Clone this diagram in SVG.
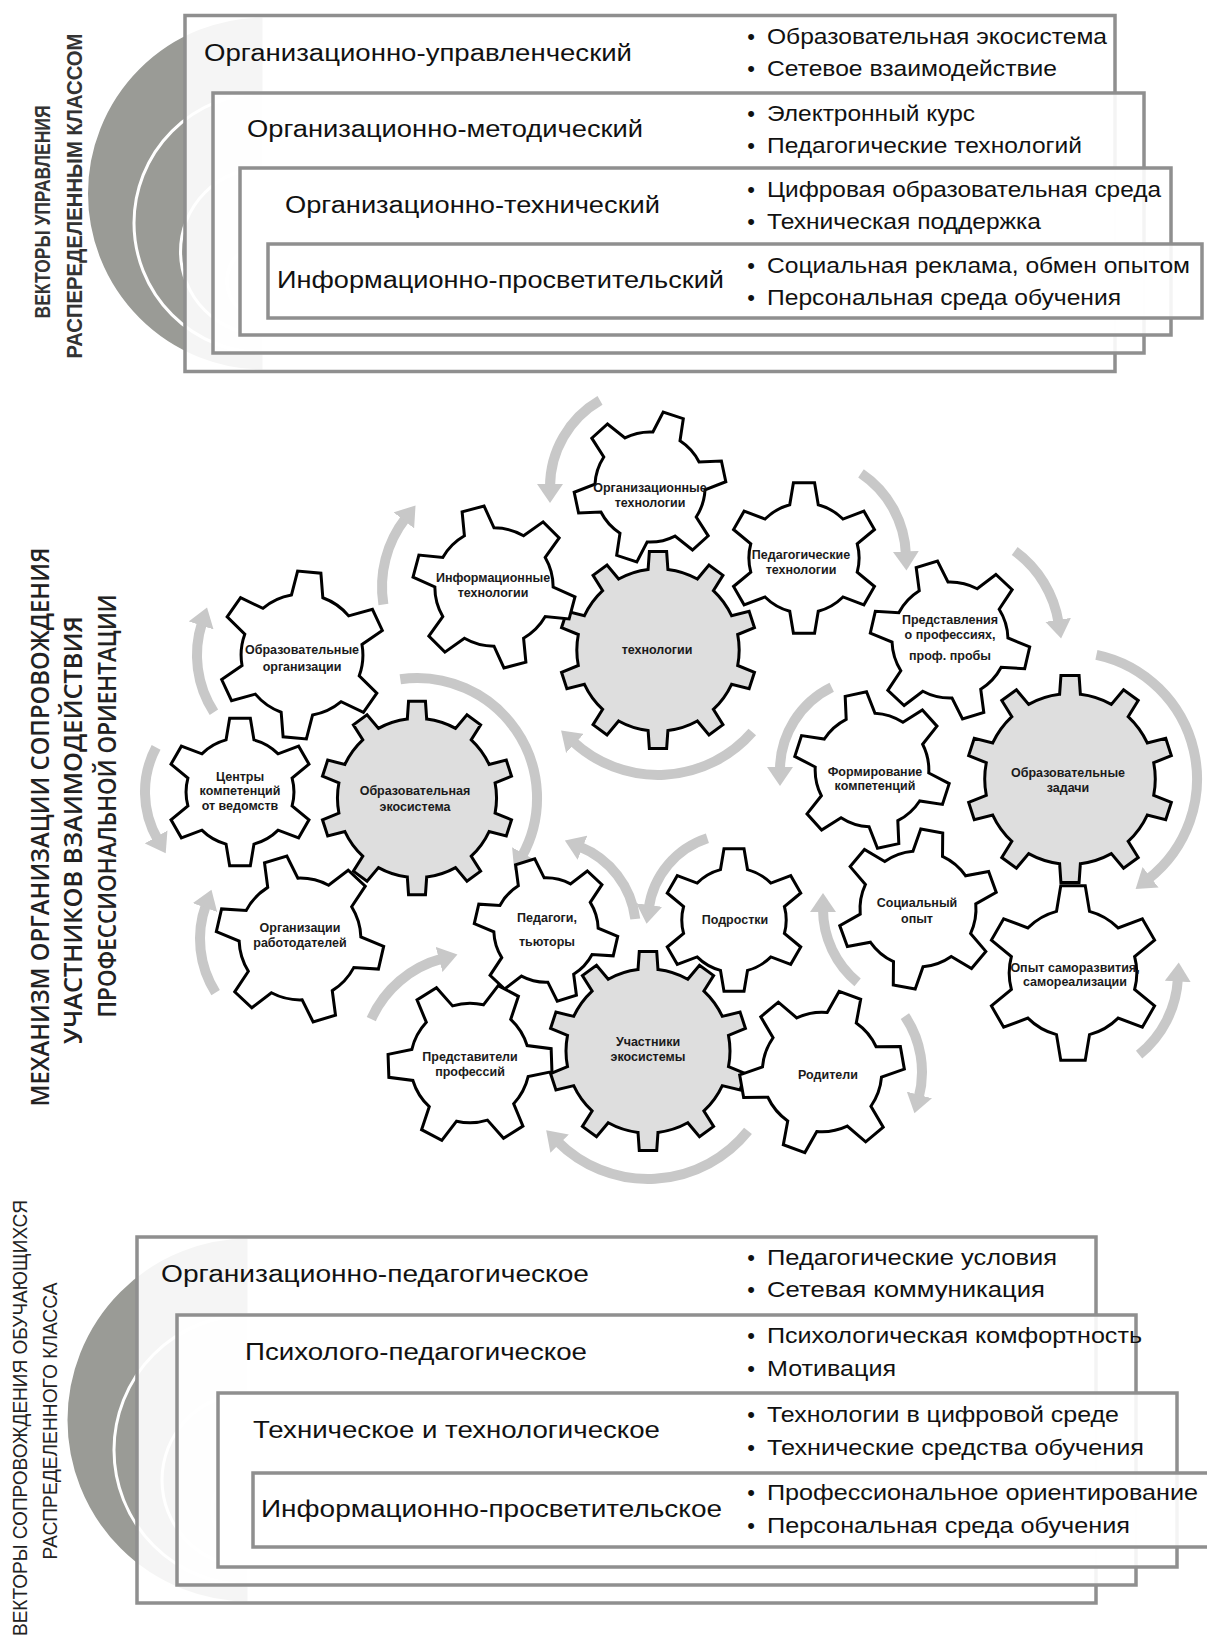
<svg xmlns="http://www.w3.org/2000/svg" xmlns:xlink="http://www.w3.org/1999/xlink" width="1207" height="1637" viewBox="0 0 1207 1637">
<style>
.rb{fill:#fff;fill-opacity:0.9;stroke:#8f8f8f;stroke-width:3.5}
.disc{fill:#9a9b96;stroke:#fff;stroke-width:3}
.lbl{font-family:'Liberation Sans',Arial,sans-serif;font-size:23px;fill:#111}
.bul{font-family:'Liberation Sans',Arial,sans-serif;font-size:22px;fill:#111}
.vt{font-family:'Liberation Sans Narrow','Liberation Sans',Arial,sans-serif;font-size:22px;fill:#222;text-anchor:middle}
.vtb{font-weight:bold;fill:#333}
.mt{font-family:'Open Sans','Noto Sans',sans-serif;font-size:25px;font-weight:600;fill:#222;text-anchor:middle}
.gt{font-family:'Liberation Sans',Arial,sans-serif;font-size:12.5px;font-weight:bold;fill:#1a1a1a;text-anchor:middle}
.wg{fill:#fff;stroke:#000;stroke-width:3}
.gg{fill:#dedede;stroke:#000;stroke-width:3}
.arr{fill:none;stroke:#c8c8c8;stroke-width:10;marker-end:url(#ah)}
</style>
<defs>
<marker id="ah" markerUnits="userSpaceOnUse" markerWidth="20" markerHeight="26" viewBox="0 0 20 26" refX="3" refY="13" orient="auto"><path d="M0,0 L19,13 L0,26 Z" fill="#c8c8c8"/></marker>
<path id="wgear" vector-effect="non-scaling-stroke" stroke-linejoin="miter" d="M-15.01,-56.02 L-11.13,-79.22 L11.13,-79.22 L15.01,-56.02 A58,58 0 0 1 41.01,-41.01 L63.04,-49.25 L74.17,-29.97 L56.02,-15.01 A58,58 0 0 1 56.02,15.01 L74.17,29.97 L63.04,49.25 L41.01,41.01 A58,58 0 0 1 15.01,56.02 L11.13,79.22 L-11.13,79.22 L-15.01,56.02 A58,58 0 0 1 -41.01,41.01 L-63.04,49.25 L-74.17,29.97 L-56.02,15.01 A58,58 0 0 1 -56.02,-15.01 L-74.17,-29.97 L-63.04,-49.25 L-41.01,-41.01 A58,58 0 0 1 -15.01,-56.02 Z"/>
<path id="ggear" vector-effect="non-scaling-stroke" stroke-linejoin="miter" d="M-9.99,-81.39 L-8.72,-99.62 L8.72,-99.62 L9.99,-81.39 A82,82 0 0 1 39.75,-71.72 L51.5,-85.72 L65.61,-75.47 L55.92,-59.97 A82,82 0 0 1 74.32,-34.65 L92.05,-39.07 L97.44,-22.5 L80.49,-15.65 A82,82 0 0 1 80.49,15.65 L97.44,22.5 L92.05,39.07 L74.32,34.65 A82,82 0 0 1 55.92,59.97 L65.61,75.47 L51.5,85.72 L39.75,71.72 A82,82 0 0 1 9.99,81.39 L8.72,99.62 L-8.72,99.62 L-9.99,81.39 A82,82 0 0 1 -39.75,71.72 L-51.5,85.72 L-65.61,75.47 L-55.92,59.97 A82,82 0 0 1 -74.32,34.65 L-92.05,39.07 L-97.44,22.5 L-80.49,15.65 A82,82 0 0 1 -80.49,-15.65 L-97.44,-22.5 L-92.05,-39.07 L-74.32,-34.65 A82,82 0 0 1 -55.92,-59.97 L-65.61,-75.47 L-51.5,-85.72 L-39.75,-71.72 A82,82 0 0 1 -9.99,-81.39 Z"/>
</defs>
<rect width="1207" height="1637" fill="#fff"/>

<!-- ===== TOP SECTION ===== -->
<g id="top-title">
<text class="vt vtb" transform="translate(50,212) rotate(-90)" textLength="213" lengthAdjust="spacingAndGlyphs">ВЕКТОРЫ УПРАВЛЕНИЯ</text>
<text class="vt vtb" transform="translate(82,196) rotate(-90)" textLength="325" lengthAdjust="spacingAndGlyphs">РАСПЕРЕДЕЛЕННЫМ КЛАССОМ</text>
</g>
<g id="top-discs">
<path class="disc" d="M264,16 A177.5,177.5 0 0 0 264,371 Z"/>
<path class="disc" d="M264,93 A130,130 0 0 0 264,353 Z"/>
<path class="disc" d="M264,168 A83.5,83.5 0 0 0 264,335 Z"/>
<path class="disc" d="M264,244 A37,37 0 0 0 264,318 Z"/>
</g>
<g id="top-1">
<rect class="rb" x="185" y="15.5" width="930" height="356"/>
<text class="lbl" x="204" y="61" textLength="428" lengthAdjust="spacingAndGlyphs">Организационно-управленческий</text>
<text class="bul" x="751" y="44" text-anchor="middle">•</text>
<text class="bul" x="767" y="44" textLength="340" lengthAdjust="spacingAndGlyphs">Образовательная экосистема</text>
<text class="bul" x="751" y="76" text-anchor="middle">•</text>
<text class="bul" x="767" y="76" textLength="290" lengthAdjust="spacingAndGlyphs">Сетевое взаимодействие</text>
</g>
<g id="top-2">
<rect class="rb" x="213" y="93" width="931" height="260"/>
<text class="lbl" x="247" y="137" textLength="396" lengthAdjust="spacingAndGlyphs">Организационно-методический</text>
<text class="bul" x="751" y="121" text-anchor="middle">•</text>
<text class="bul" x="767" y="121" textLength="208" lengthAdjust="spacingAndGlyphs">Электронный курс</text>
<text class="bul" x="751" y="153" text-anchor="middle">•</text>
<text class="bul" x="767" y="153" textLength="315" lengthAdjust="spacingAndGlyphs">Педагогические технологий</text>
</g>
<g id="top-3">
<rect class="rb" x="240" y="168" width="931" height="167"/>
<text class="lbl" x="285" y="213" textLength="375" lengthAdjust="spacingAndGlyphs">Организационно-технический</text>
<text class="bul" x="751" y="197" text-anchor="middle">•</text>
<text class="bul" x="767" y="197" textLength="394" lengthAdjust="spacingAndGlyphs">Цифровая образовательная среда</text>
<text class="bul" x="751" y="229" text-anchor="middle">•</text>
<text class="bul" x="767" y="229" textLength="274" lengthAdjust="spacingAndGlyphs">Техническая поддержка</text>
</g>
<g id="top-4">
<rect class="rb" x="268" y="244" width="934" height="74"/>
<text class="lbl" x="277" y="288" textLength="447" lengthAdjust="spacingAndGlyphs">Информационно-просветительский</text>
<text class="bul" x="751" y="273" text-anchor="middle">•</text>
<text class="bul" x="767" y="273" textLength="423" lengthAdjust="spacingAndGlyphs">Социальная реклама, обмен опытом</text>
<text class="bul" x="751" y="305" text-anchor="middle">•</text>
<text class="bul" x="767" y="305" textLength="354" lengthAdjust="spacingAndGlyphs">Персональная среда обучения</text>
</g>

<!-- ===== MIDDLE SECTION ===== -->
<g id="mid-title">
<text class="mt" transform="translate(49,827) rotate(-90)" textLength="559" lengthAdjust="spacingAndGlyphs">МЕХАНИЗМ ОРГАНИЗАЦИИ СОПРОВОЖДЕНИЯ</text>
<text class="mt" transform="translate(82,830) rotate(-90)" textLength="428" lengthAdjust="spacingAndGlyphs">УЧАСТНИКОВ ВЗАИМОДЕЙСТВИЯ</text>
<text class="mt" transform="translate(116,806) rotate(-90)" textLength="423" lengthAdjust="spacingAndGlyphs">ПРОФЕССИОНАЛЬНОЙ ОРИЕНТАЦИИ</text>
</g>

<g id="connectors">
<path class="arr" d="M213.9,712.2 A105,105 0 0 1 202.1,622.6"/>
<path class="arr" d="M383.4,604.5 A112,112 0 0 1 405.7,518"/>
<path class="arr" d="M600,400.4 A100,100 0 0 0 550,487"/>
<path class="arr" d="M861,473.4 A102,102 0 0 1 905.9,554.4"/>
<path class="arr" d="M1014.7,551 A110,110 0 0 1 1058.6,622.8"/>
<path class="arr" d="M1096.4,654.8 A127,127 0 0 1 1148.2,879.1"/>
<path class="arr" d="M752.3,732 A125,125 0 0 1 572.8,741.4"/>
<path class="arr" d="M831.7,687.3 A92,92 0 0 0 780,770"/>
<path class="arr" d="M400.3,679.2 A120,120 0 0 1 522,856.2"/>
<path class="arr" d="M156.1,747.4 A95,95 0 0 0 157.7,839.5"/>
<path class="arr" d="M215.6,992.6 A100,100 0 0 1 206,904.8"/>
<path class="arr" d="M371.3,1019.1 A108,108 0 0 1 442,958.7"/>
<path class="arr" d="M635.3,919 A90,90 0 0 0 579.7,846.6"/>
<path class="arr" d="M707.4,838.2 A86,86 0 0 0 648.8,908"/>
<path class="arr" d="M857.6,982.3 A95,95 0 0 1 823,909"/>
<path class="arr" d="M904.9,1016.1 A100,100 0 0 1 918.6,1097.9"/>
<path class="arr" d="M748,1130.9 A128,128 0 0 1 557.5,1141.5"/>
<path class="arr" d="M1139.1,1054.6 A105,105 0 0 0 1177.9,978.5"/>
</g>

<g id="g-tech"><use href="#ggear" class="gg" transform="translate(658,650) scale(0.99)"/><text class="gt" x="657" y="654">технологии</text></g>
<g id="g-ecosys"><use href="#ggear" class="gg" transform="translate(417,798) scale(0.97)"/><text class="gt" x="415" y="795">Образовательная</text><text class="gt" x="415" y="811">экосистема</text></g>
<g id="g-tasks"><use href="#ggear" class="gg" transform="translate(1070,779) scale(1.04)"/><text class="gt" x="1068" y="777">Образовательные</text><text class="gt" x="1068" y="792">задачи</text></g>
<g id="g-members"><use href="#ggear" class="gg" transform="translate(648,1051)"/><text class="gt" x="648" y="1046">Участники</text><text class="gt" x="648" y="1061">экосистемы</text></g>

<g id="g-orgtech"><use href="#wgear" class="wg" transform="translate(650,487) rotate(18) scale(0.95)"/><text class="gt" x="650" y="492">Организационные</text><text class="gt" x="650" y="507">технологии</text></g>
<g id="g-infotech"><use href="#wgear" class="wg" transform="translate(494,587) rotate(-15) scale(1.02)"/><text class="gt" x="493" y="582">Информационные</text><text class="gt" x="493" y="597">технологии</text></g>
<g id="g-pedtech"><use href="#wgear" class="wg" transform="translate(804,558) scale(0.95)"/><text class="gt" x="801" y="559">Педагогические</text><text class="gt" x="801" y="574">технологии</text></g>
<g id="g-eduorg"><use href="#wgear" class="wg" transform="translate(302,655) rotate(5) scale(1.05)"/><text class="gt" x="302" y="654">Образовательные</text><text class="gt" x="302" y="671">организации</text></g>
<g id="g-repr"><use href="#wgear" class="wg" transform="translate(950,640) rotate(-17)"/><text class="gt" x="950" y="624">Представления</text><text class="gt" x="950" y="639">о профессиях,</text><text class="gt" x="950" y="660">проф. пробы</text></g>
<g id="g-centers"><use href="#wgear" class="wg" transform="translate(240,792) scale(0.93)"/><text class="gt" x="240" y="781">Центры</text><text class="gt" x="240" y="795">компетенций</text><text class="gt" x="240" y="810">от ведомств</text></g>
<g id="g-form"><use href="#wgear" class="wg" transform="translate(872,770) rotate(-12) scale(0.98)"/><text class="gt" x="875" y="776">Формирование</text><text class="gt" x="875" y="790">компетенций</text></g>
<g id="g-social"><use href="#wgear" class="wg" transform="translate(918,909) rotate(10)"/><text class="gt" x="917" y="907">Социальный</text><text class="gt" x="917" y="923">опыт</text></g>
<g id="g-selfdev"><use href="#wgear" class="wg" transform="translate(1073,973) scale(1.1)"/><text class="gt" x="1075" y="972">Опыт саморазвития,</text><text class="gt" x="1075" y="986">самореализации</text></g>
<g id="g-employers"><use href="#wgear" class="wg" transform="translate(300,939) rotate(-17) scale(1.05)"/><text class="gt" x="300" y="932">Организации</text><text class="gt" x="300" y="947">работодателей</text></g>
<g id="g-teachers"><use href="#wgear" class="wg" transform="translate(546,930) rotate(-17) scale(0.9)"/><text class="gt" x="547" y="922">Педагоги,</text><text class="gt" x="547" y="946">тьюторы</text></g>
<g id="g-profrep"><use href="#wgear" class="wg" transform="translate(470,1063) rotate(28) scale(1.03)"/><text class="gt" x="470" y="1061">Представители</text><text class="gt" x="470" y="1076">профессий</text></g>
<g id="g-teens"><use href="#wgear" class="wg" transform="translate(734,920) scale(0.9)"/><text class="gt" x="735" y="924">Подростки</text></g>
<g id="g-parents"><use href="#wgear" class="wg" transform="translate(822,1072) rotate(20) scale(1.03)"/><text class="gt" x="828" y="1079">Родители</text></g>

<!-- ===== BOTTOM SECTION ===== -->
<g id="bottom-title">
<text class="vt" transform="translate(27,1418) rotate(-90)" textLength="436" lengthAdjust="spacingAndGlyphs" style="font-size:21px">ВЕКТОРЫ СОПРОВОЖДЕНИЯ ОБУЧАЮЩИХСЯ</text>
<text class="vt" transform="translate(57,1421) rotate(-90)" textLength="277" lengthAdjust="spacingAndGlyphs" style="font-size:21px">РАСПРЕДЕЛЕННОГО КЛАССА</text>
</g>
<g id="bottom-discs">
<path class="disc" d="M249,1237 A183,183 0 0 0 249,1603 Z"/>
<path class="disc" d="M249,1315 A135,135 0 0 0 249,1585 Z"/>
<path class="disc" d="M249,1393 A87,87 0 0 0 249,1567 Z"/>
<path class="disc" d="M249,1473 A37,37 0 0 0 249,1547 Z"/>
</g>
<g id="bottom-1">
<rect class="rb" x="137" y="1237" width="959" height="366"/>
<text class="lbl" x="161" y="1282" textLength="428" lengthAdjust="spacingAndGlyphs">Организационно-педагогическое</text>
<text class="bul" x="751" y="1265" text-anchor="middle">•</text>
<text class="bul" x="767" y="1265" textLength="290" lengthAdjust="spacingAndGlyphs">Педагогические условия</text>
<text class="bul" x="751" y="1297" text-anchor="middle">•</text>
<text class="bul" x="767" y="1297" textLength="278" lengthAdjust="spacingAndGlyphs">Сетевая коммуникация</text>
</g>
<g id="bottom-2">
<rect class="rb" x="177" y="1315" width="959" height="270"/>
<text class="lbl" x="245" y="1360" textLength="342" lengthAdjust="spacingAndGlyphs">Психолого-педагогическое</text>
<text class="bul" x="751" y="1343" text-anchor="middle">•</text>
<text class="bul" x="767" y="1343" textLength="375" lengthAdjust="spacingAndGlyphs">Психологическая комфортность</text>
<text class="bul" x="751" y="1376" text-anchor="middle">•</text>
<text class="bul" x="767" y="1376" textLength="129" lengthAdjust="spacingAndGlyphs">Мотивация</text>
</g>
<g id="bottom-3">
<rect class="rb" x="218" y="1393" width="959" height="174"/>
<text class="lbl" x="253" y="1438" textLength="407" lengthAdjust="spacingAndGlyphs">Техническое и технологическое</text>
<text class="bul" x="751" y="1422" text-anchor="middle">•</text>
<text class="bul" x="767" y="1422" textLength="352" lengthAdjust="spacingAndGlyphs">Технологии в цифровой среде</text>
<text class="bul" x="751" y="1455" text-anchor="middle">•</text>
<text class="bul" x="767" y="1455" textLength="377" lengthAdjust="spacingAndGlyphs">Технические средства обучения</text>
</g>
<g id="bottom-4">
<rect class="rb" x="253" y="1473" width="970" height="74"/>
<text class="lbl" x="261" y="1517" textLength="461" lengthAdjust="spacingAndGlyphs">Информационно-просветительское</text>
<text class="bul" x="751" y="1500" text-anchor="middle">•</text>
<text class="bul" x="767" y="1500" textLength="431" lengthAdjust="spacingAndGlyphs">Профессиональное ориентирование</text>
<text class="bul" x="751" y="1533" text-anchor="middle">•</text>
<text class="bul" x="767" y="1533" textLength="363" lengthAdjust="spacingAndGlyphs">Персональная среда обучения</text>
</g>
</svg>
